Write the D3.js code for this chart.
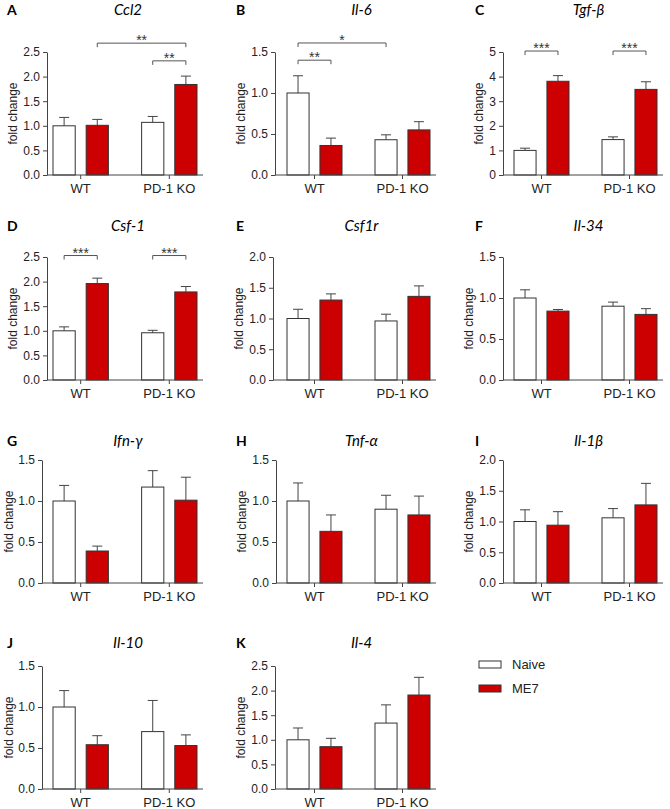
<!DOCTYPE html>
<html>
<head>
<meta charset="utf-8">
<script src="https://cdn.jsdelivr.net/npm/d3@7"></script>
<style>
  body { margin: 0; background: #fff; }
  svg { display: block; font-family: "Liberation Sans", Arial, sans-serif; }
  .axis path, .axis line { stroke: #444; }
  .axis text { fill: #222; }
</style>
</head>
<body>
<div id="chart"></div>
<script>
// gene panels
var genes = ["Ccl2", "Il-6", "Tgf-\u03b2", "Csf-1", "Csf1r", "Il-34", "Ifn-\u03b3", "Tnf-\u03b1", "Il-1\u03b2", "Il-10", "Il-4"];
var letters = ["A", "B", "C", "D", "E", "F", "G", "H", "I", "J", "K"];
var groups = ["WT", "PD-1 KO"];
var conditions = ["Naive", "ME7"];

// bar order: Naive WT, ME7 WT, Naive KO, ME7 KO
var means = [
  [1.00, 1.01, 1.07, 1.84],
  [1.00, 0.36, 0.43, 0.55],
  [1.00, 3.81, 1.44, 3.48],
  [1.00, 1.96, 0.96, 1.79],
  [1.00, 1.30, 0.96, 1.36],
  [1.00, 0.84, 0.90, 0.80],
  [1.00, 0.39, 1.17, 1.01],
  [1.00, 0.63, 0.90, 0.83],
  [1.00, 0.94, 1.06, 1.27],
  [1.00, 0.54, 0.70, 0.53],
  [1.00, 0.86, 1.34, 1.91]
];
var sems = [
  [0.17, 0.12, 0.12, 0.17],
  [0.21, 0.09, 0.06, 0.10],
  [0.09, 0.23, 0.11, 0.31],
  [0.08, 0.11, 0.05, 0.11],
  [0.15, 0.10, 0.11, 0.17],
  [0.10, 0.02, 0.05, 0.07],
  [0.19, 0.06, 0.20, 0.28],
  [0.22, 0.20, 0.17, 0.23],
  [0.19, 0.22, 0.15, 0.35],
  [0.20, 0.11, 0.38, 0.13],
  [0.24, 0.17, 0.37, 0.36]
];
var yMax = [2.5, 1.5, 5, 2.5, 2, 1.5, 1.5, 1.5, 2, 1.5, 2.5];
var yStep = [0.5, 0.5, 1, 0.5, 0.5, 0.5, 0.5, 0.5, 0.5, 0.5, 0.5];

// [panel, fromBar, toBar, level, label]
var significance = [
  [0, 1, 3, 2.68, "**"],
  [0, 2, 3, 2.32, "**"],
  [1, 0, 2, 1.61, "*"],
  [1, 0, 1, 1.40, "**"],
  [2, 0, 1, 5.04, "***"],
  [2, 2, 3, 5.04, "***"],
  [3, 0, 1, 2.53, "***"],
  [3, 2, 3, 2.53, "***"]
];

// layout
var width = 670, height = 809;
var colBars = [[53, 197], [287, 430], [514, 657]];
var rowY = [[52, 175], [257, 380], [460, 583], [666, 789]];
var axisX = [47, 275, 503, 47, 273, 503, 42, 276, 503, 42, 275];
var letterX = [7, 236, 475];
var titleBase = [15, 231, 446, 648];
var red = "#cc0000";

var svg = d3.select("#chart").append("svg")
    .attr("width", width)
    .attr("height", height);

genes.forEach(function (gene, p) {
  var col = p % 3, row = Math.floor(p / 3);
  var x0 = axisX[p], x1 = colBars[col][1] + 6;
  var top = rowY[row][0], bottom = rowY[row][1];

  var x = d3.scaleBand().domain(groups).range(colBars[col]).paddingInner(0.375);
  var sub = d3.scaleBand().domain(conditions).range([0, x.bandwidth()]).paddingInner(0.33);
  var y = d3.scaleLinear().domain([0, yMax[p]]).range([bottom, top]);

  var g = svg.append("g");

  // panel letter + title
  g.append("text")
      .attr("x", letterX[col]).attr("y", titleBase[row])
      .style("font-family", "Lato, 'Open Sans', sans-serif")
      .style("font-weight", "bold").style("font-size", "14px")
      .text(letters[p]);
  g.append("text")
      .attr("x", (colBars[col][0] + colBars[col][1]) / 2 + 3).attr("y", titleBase[row])
      .attr("text-anchor", "middle")
      .style("font-family", "Lato, 'Open Sans', sans-serif")
      .style("font-style", "italic").style("font-size", "15px")
      .text(gene);

  var bars = [];
  groups.forEach(function (grp, gi) {
    conditions.forEach(function (cond, ci) {
      var k = gi * 2 + ci;
      bars.push({
        cond: cond,
        x: x(grp) + sub(cond),
        w: sub.bandwidth(),
        v: means[p][k],
        e: sems[p][k]
      });
    });
  });

  // error bars (upper only)
  var eb = g.selectAll(".err").data(bars).enter().append("g")
      .attr("stroke", "#444").attr("stroke-width", 1);
  eb.append("line")
      .attr("x1", function (d) { return d.x + d.w / 2; })
      .attr("x2", function (d) { return d.x + d.w / 2; })
      .attr("y1", function (d) { return y(d.v); })
      .attr("y2", function (d) { return y(d.v + d.e); });
  eb.append("line")
      .attr("x1", function (d) { return d.x + d.w / 2 - 5; })
      .attr("x2", function (d) { return d.x + d.w / 2 + 5; })
      .attr("y1", function (d) { return y(d.v + d.e); })
      .attr("y2", function (d) { return y(d.v + d.e); });

  g.selectAll(".bar").data(bars).enter().append("rect")
      .attr("x", function (d) { return d.x; })
      .attr("y", function (d) { return y(d.v); })
      .attr("width", function (d) { return d.w; })
      .attr("height", function (d) { return bottom - y(d.v); })
      .attr("fill", function (d) { return d.cond === "ME7" ? red : "#fff"; })
      .attr("stroke", "#333").attr("stroke-width", 1);

  // y axis
  var ya = g.append("g").attr("class", "axis")
      .attr("transform", "translate(" + x0 + ",0)")
      .call(d3.axisLeft(y)
        .tickValues(d3.range(0, yMax[p] + yStep[p] / 2, yStep[p]))
        .tickFormat(d3.format(yStep[p] >= 1 ? "d" : ".1f"))
        .tickSize(4).tickSizeOuter(0).tickPadding(3));
  ya.selectAll("text").style("font-size", "12px");

  // x axis
  var xa = g.append("g").attr("class", "axis")
      .attr("transform", "translate(0," + bottom + ")")
      .call(d3.axisBottom(x).tickSize(4).tickSizeOuter(0).tickPadding(5));
  xa.select(".domain").remove();
  xa.append("line").attr("x1", x0).attr("x2", x1).attr("stroke", "#444");
  xa.selectAll("text").style("font-size", "13px");

  // y label, kept inside the page
  var bb = ya.node().getBBox();
  var lx = Math.max(x0 + bb.x - 11, 9);
  g.append("text")
      .attr("transform", "translate(" + lx + "," + ((top + bottom) / 2) + ") rotate(-90)")
      .attr("text-anchor", "middle")
      .attr("dy", "0.35em")
      .style("font-size", "12px").style("fill", "#222")
      .text("fold change");

  // significance brackets
  significance.filter(function (s) { return s[0] === p; }).forEach(function (s) {
    var xa1 = bars[s[1]].x + bars[s[1]].w / 2;
    var xb1 = bars[s[2]].x + bars[s[2]].w / 2;
    var yy = y(s[3]);
    g.append("path")
        .attr("d", "M" + xa1 + "," + (yy + 4) + "V" + yy + "H" + xb1 + "V" + (yy + 4))
        .attr("fill", "none").attr("stroke", "#555").attr("stroke-width", 1);
    g.append("text")
        .attr("x", (xa1 + xb1) / 2).attr("y", yy + 2)
        .attr("text-anchor", "middle")
        .style("font-size", "14px").style("fill", "#333")
        .text(s[4]);
  });
});

// legend
var legend = svg.append("g").attr("transform", "translate(479,661)");
conditions.forEach(function (cond, i) {
  legend.append("rect")
      .attr("x", 0).attr("y", i * 24)
      .attr("width", 22).attr("height", 7)
      .attr("fill", cond === "ME7" ? red : "#fff")
      .attr("stroke", "#333");
  legend.append("text")
      .attr("x", 33).attr("y", i * 24 + 8)
      .style("font-size", "13px").style("fill", "#222")
      .text(cond);
});
</script>
</body>
</html>
